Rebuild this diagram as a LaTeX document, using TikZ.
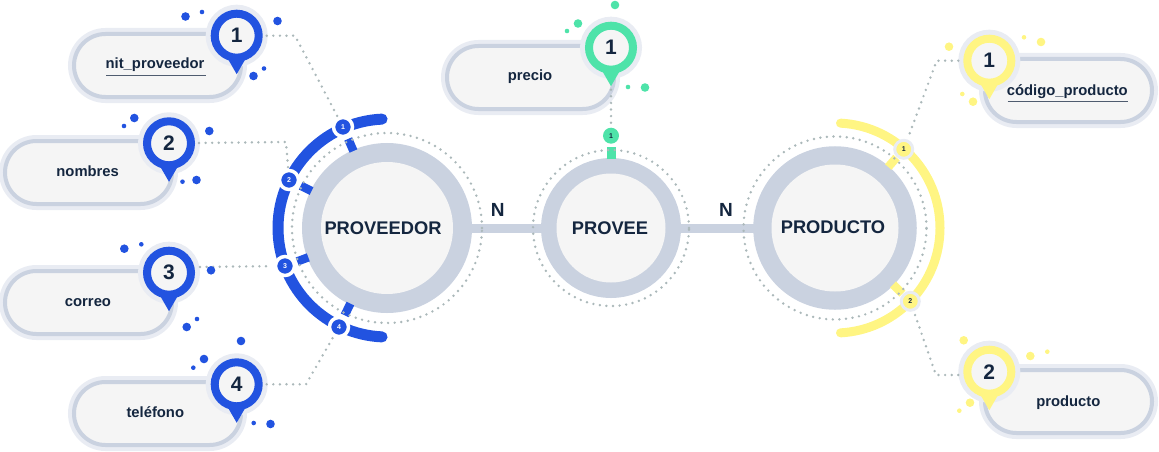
\documentclass[tikz,border=0pt]{standalone}
\usepackage{fontspec}
\setmainfont{Liberation Sans}
\usetikzlibrary{shapes.misc,shadows}
\definecolor{pinblue}{HTML}{2253E0}
\definecolor{pingreen}{HTML}{4EE3A9}
\definecolor{pinyellow}{HTML}{FFF583}
\definecolor{ringgray}{HTML}{CAD2E0}
\definecolor{halogray}{HTML}{E9ECF3}
\definecolor{panelgray}{HTML}{F5F5F5}
\definecolor{inkblue}{HTML}{14263F}
\definecolor{dotgray}{HTML}{ABB8BA}
\tikzset{
  pillbox/.style={rounded rectangle, draw=ringgray, fill=panelgray, line width=4, inner sep=0, outer sep=0,
    minimum width=167, minimum height=63, preaction={draw=halogray, line width=12}},
  pillname/.style={text=inkblue, inner sep=0, anchor=base, font=\bfseries\fontsize{14.8}{17}\selectfont},
  keyline/.style={draw=inkblue!75, line width=1},
  pinhead/.style={circle, inner sep=0, outer sep=0, minimum size=44, fill=panelgray, line width=8,
    text=inkblue, font=\bfseries\fontsize{21}{24}\selectfont, preaction={draw=halogray, line width=18}},
  entity/.style={circle, inner sep=0, outer sep=0, fill=panelgray,
    drop shadow={shadow xshift=1pt, shadow yshift=-2pt, fill=black!60, opacity=.2}},
  entityname/.style={text=inkblue, inner sep=0, anchor=base, font=\bfseries\fontsize{18.3}{22}\selectfont},
  markdot/.style={circle, inner sep=0, outer sep=0, minimum size=16, font=\bfseries\fontsize{7}{8}\selectfont},
  bluemark/.style={markdot, fill=pinblue, text=white, draw=white, line width=3.5, minimum size=19},
  yellowmark/.style={markdot, fill=pinyellow, text=inkblue, draw=halogray, line width=3, minimum size=18},
  dotline/.style={draw=dotgray, line width=2.7, line cap=round, dash pattern=on 0pt off 6.6pt},
  barline/.style={draw=ringgray, line width=9, shorten <=10, shorten >=10},
  spoke/.style={line width=8.5},
  cardlabel/.style={text=inkblue, inner sep=0, anchor=base, font=\bfseries\fontsize{19}{22}\selectfont}
}
% name, x, y, colour, number
\newcommand{\locpin}[5]{%
  \node[pinhead, draw=#4] (#1) at (#2,#3) {#5};
  \fill[#4, line join=round] (#2-9.5,#3-22) -- (#2+9.5,#3-22) -- (#2,#3-38.5) -- cycle;
}
\begin{document}
\begin{tikzpicture}[x=1pt,y=1pt]
\useasboundingbox (0,-452) rectangle (1159,0);
% entities
\node[entity, minimum size=132, preaction={draw=ringgray, line width=38}] (proveedor) at (387,-228) {};
\node[entity, minimum size=109, preaction={draw=ringgray, line width=31}] (provee) at (611,-228) {};
\node[entity, minimum size=127, preaction={draw=ringgray, line width=36.5}] (producto) at (835,-228) {};
\node[entityname] (nameProveedor) at (383,-234) {PROVEEDOR};
\node[entityname] (nameProvee) at (610,-234) {PROVEE};
\node[entityname] (nameProducto) at (833,-233) {PRODUCTO};
\draw[barline] (proveedor) -- (provee);
\draw[barline] (provee) -- (producto);
\node[cardlabel] (cardA) at (497.7,-216) {N};
\node[cardlabel] (cardB) at (726,-216) {N};
% outer arcs
\draw[pinblue, line width=11, line cap=round] ([shift={(92.6:109)}]proveedor.center) arc[start angle=92.6, end angle=267.4, radius=109];
\draw[pinyellow, line width=9, line cap=round] ([shift={(87:105)}]producto.center) arc[start angle=87, end angle=-87, radius=105];
% marks on the arcs
\node[bluemark] (markA) at (343,-127) {1};
\node[bluemark] (markB) at (289,-180) {2};
\node[bluemark] (markC) at (285,-266) {3};
\node[bluemark] (markD) at (339,-327) {4};
\node[markdot, fill=pingreen, text=inkblue] (markP) at (611,-135.7) {1};
\node[yellowmark] (markE) at (903.7,-149.3) {1};
\node[yellowmark] (markF) at (910.3,-301.3) {2};
\draw[spoke, pinblue, shorten <=3.5, shorten >=84] (markA) -- (proveedor.center);
\draw[spoke, pinblue, shorten <=3.5, shorten >=84] (markB) -- (proveedor.center);
\draw[spoke, pinblue, shorten <=3.5, shorten >=84] (markC) -- (proveedor.center);
\draw[spoke, pinblue, shorten <=3.5, shorten >=84] (markD) -- (proveedor.center);
\draw[spoke, pingreen, line width=9, shorten <=3.3, shorten >=69.5] (markP) -- (provee.center);
\draw[spoke, pinyellow, shorten <=2, shorten >=81] (markE) -- (producto.center);
\draw[spoke, pinyellow, shorten <=2, shorten >=81] (markF) -- (producto.center);
\draw[dotline] (proveedor.center) ++(95,0) arc[start angle=0, end angle=360, radius=95];
\draw[dotline] (provee.center) ++(78,0) arc[start angle=0, end angle=360, radius=78];
\draw[dotline] (producto.center) ++(91.5,0) arc[start angle=0, end angle=360, radius=91.5];
% attribute pills
\node[pillbox] (pillA) at (157.5,-65.5) {};
\node[pillbox] (pillB) at (88.5,-172.5) {};
\node[pillbox] (pillC) at (88.5,-302.5) {};
\node[pillbox] (pillD) at (157.5,-413.5) {};
\node[pillbox] (pillP) at (530.5,-77.5) {};
\node[pillbox] (pillE) at (1068.5,-90.5) {};
\node[pillbox] (pillF) at (1068.5,-401.5) {};
\node[pillname] (nameA) at (155,-69) {nit\_proveedor};
\node[pillname] (nameB) at (87.7,-176.7) {nombres};
\node[pillname] (nameC) at (88,-306.7) {correo};
\node[pillname] (nameD) at (155.3,-417.7) {teléfono};
\node[pillname] (nameP) at (530,-81) {precio};
\node[pillname] (nameE) at (1067.3,-95.3) {código\_producto};
\node[pillname] (nameF) at (1068.3,-406) {producto};
\draw[keyline] (106,-75.3) -- (205.7,-75.3);
\draw[keyline] (1007.7,-101.7) -- (1128.3,-101.7);
% pins
\locpin{pinA}{236.7}{-35.7}{pinblue}{1}
\locpin{pinB}{169}{-143.3}{pinblue}{2}
\locpin{pinC}{169}{-272.7}{pinblue}{3}
\locpin{pinD}{236.7}{-384.3}{pinblue}{4}
\locpin{pinP}{611}{-47.7}{pingreen}{1}
\locpin{pinE}{989.3}{-60.7}{pinyellow}{1}
\locpin{pinF}{989.3}{-371.7}{pinyellow}{2}
% connectors
\coordinate (bendA) at (295,-35.7);
\coordinate (bendB) at (286,-142);
\coordinate (bendD) at (306,-384.3);
\coordinate (bendE) at (936.7,-60.7);
\coordinate (bendF) at (936,-375);
\draw[dotline, shorten <=8, shorten >=3] (pinA) -- (bendA) -- (markA);
\draw[dotline, shorten <=8, shorten >=3] (pinB) -- (bendB) -- (markB);
\draw[dotline, shorten <=31, shorten >=3] (pinC.center) ++(0,5.4) -- (markC);
\draw[dotline, shorten <=8, shorten >=3] (pinD) -- (bendD) -- (markD);
\draw[dotline, shorten <=20, shorten >=2] (pinP) -- (markP);
\draw[dotline, shorten <=9, shorten >=3] (pinE) -- (bendE) -- (markE);
\draw[dotline, shorten <=31, shorten >=3] (pinF.center) ++(0,-3.3) -- (bendF) -- (markF);
% scattered spots
\fill[pinblue] (185.5,-16.5) circle (4.3) (202,-12) circle (2.3) (277.5,-21) circle (4.3) (264,-68.5) circle (2.3) (253.5,-76) circle (4.3);
\fill[pinblue] (134.3,-118) circle (4.3) (124,-126) circle (2.3) (209.3,-131) circle (4.3) (182.5,-181.7) circle (2.3) (196.5,-180) circle (4.3);
\fill[pinblue] (124.3,-248.7) circle (4.3) (141.3,-244.3) circle (2.3) (211,-270.3) circle (4.3) (197,-319) circle (2.3) (186.7,-327) circle (4.3);
\fill[pinblue] (204,-359) circle (4.3) (193.3,-367.7) circle (2.3) (241,-341) circle (4.3) (253.7,-423) circle (2.3) (270.5,-424) circle (4.3);
\fill[pingreen] (615,-5) circle (4.3) (578,-23.5) circle (4.3) (567,-31) circle (2.3) (628,-87) circle (2.3) (645,-87.5) circle (4.3);
\fill[pinyellow] (949,-46.7) circle (4.3) (1024,-37.3) circle (2.3) (1041,-42) circle (4.3) (962.3,-94) circle (2.3) (973,-101.7) circle (4.3);
\fill[pinyellow] (963.7,-340.3) circle (4.3) (1030.3,-356) circle (4.3) (1047.3,-351.7) circle (2.3) (970,-402.7) circle (4.3) (959.3,-410.7) circle (2.3);
\end{tikzpicture}
\end{document}
